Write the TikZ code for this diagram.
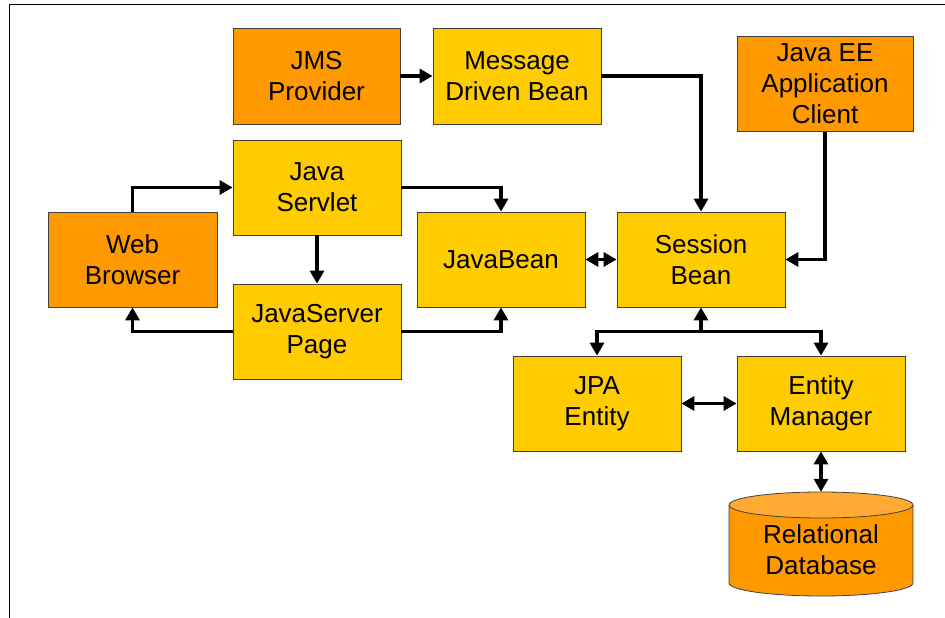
\documentclass[tikz,border=0pt]{standalone}
\usepackage{fontspec}
\setmainfont{Liberation Sans}
\usetikzlibrary{arrows.meta}

\definecolor{jorange}{HTML}{FF9900}
\definecolor{jyellow}{HTML}{FFCC00}
\definecolor{jtop}{HTML}{FFAA33}

\begin{document}
\begin{tikzpicture}[x=1pt, y=-1pt,
    every node/.style={font=\fontsize{26}{31}\selectfont, align=center},
    box/.style={draw=black!75, line width=0.8pt, minimum width=168pt, minimum height=95pt, inner sep=0pt},
    orangebox/.style={box, fill=jorange},
    yellowbox/.style={box, fill=jyellow},
    link/.style={line width=3.8pt, -{Triangle[length=13pt, width=14pt]}},
    dlink/.style={line width=3.8pt, {Triangle[length=13pt, width=14pt]}-{Triangle[length=13pt, width=14pt]}}]
    \useasboundingbox (0,0) rectangle (945,618);

    % Frame
    \draw[line width=1pt] (945,5) -- (9,5) -- (9,618);

    % Top row
    \node[orangebox, minimum width=167pt, minimum height=96pt] (jms) at (316.5,76) {JMS\\Provider};
    \node[yellowbox, minimum height=96pt] (mdb) at (517,76) {Message\\Driven Bean};
    \node[orangebox, minimum width=176pt] (client) at (825,84) {Java EE\\Application\\Client};

    % Web tier
    \node[yellowbox] (servlet) at (317,187.5) {Java\\Servlet};
    \node[orangebox, minimum width=169pt] (browser) at (132.5,259.5) {Web\\Browser};
    \node[yellowbox] (jsp) at (317,331.5) {JavaServer\\Page};
    \node[yellowbox] (javabean) at (501,259.5) {JavaBean};

    % Business tier
    \node[yellowbox] (session) at (701,259.5) {Session\\Bean};
    \node[yellowbox] (jpa) at (597,403.5) {JPA\\Entity};
    \node[yellowbox] (em) at (821,403.5) {Entity\\Manager};

    % Database (cylinder drawn by hand)
    \filldraw[draw=black!75, line width=0.8pt, fill=jorange]
        (729,505) -- (729,583) arc[start angle=180, end angle=0, x radius=92, y radius=13] -- (913,505);
    \filldraw[draw=black!75, line width=0.8pt, fill=jtop] (821,505) ellipse[x radius=92, y radius=13];
    \node[minimum width=184pt, minimum height=116pt, inner sep=0pt] (db) at (821,550) {Relational\\Database};

    \coordinate (split) at (701,331.5);

    % Connectors
    \draw[link] (jms) -- (mdb);
    \draw[link] (mdb) -| (session);
    \draw[link] (client) |- (session);
    \draw[link] (browser) |- (servlet);
    \draw[link] (servlet) -| (javabean);
    \draw[link] (servlet) -- (jsp);
    \draw[link] (jsp) -| (browser);
    \draw[link] (jsp) -| (javabean);
    \draw[dlink] (javabean) -- (session);
    \draw[link] (split) -- (session);
    \draw[link] (split) -| (jpa);
    \draw[link] (split) -| (em);
    \draw[dlink] (jpa) -- (em);
    \draw[dlink] (em) -- (db);
\end{tikzpicture}
\end{document}
